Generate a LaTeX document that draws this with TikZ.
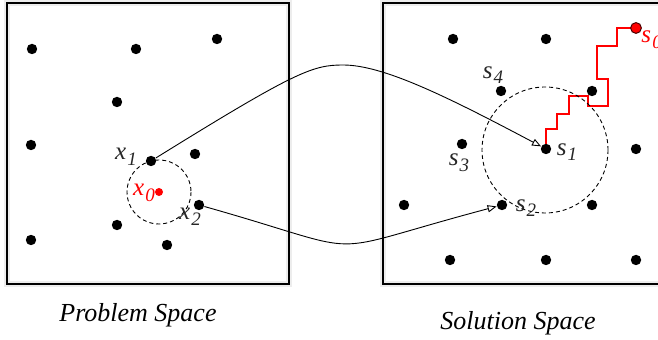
\documentclass[tikz,border=0pt]{standalone}
\usepackage{fontspec}
\setmainfont{Liberation Serif}
\usetikzlibrary{arrows.meta,backgrounds}
\newcommand{\lbl}[2]{\textit{#1}\kern0.6pt\raisebox{-0.5ex}{\fontsize{9.5}{10}\selectfont\textit{#2}}}

\begin{document}
\begin{tikzpicture}[
    x=0.5pt, y=-0.5pt,
    font=\fontsize{12.5}{14}\selectfont,
    sample/.style={circle, fill=black, inner sep=0pt, minimum size=5.2pt},
    start/.style={circle, fill=red, inner sep=0pt, minimum size=4pt},
    goal/.style={circle, fill=red, draw=black!70!red, line width=0.5pt, inner sep=0pt, minimum size=5.4pt},
    tag/.style={text=black!85, inner sep=0pt},
    spacebox/.style={draw=black, line width=0.6pt},
    glow/.style={draw=black!7, line width=3pt},
    ball/.style={dash pattern=on 2pt off 1.5pt, line width=0.45pt},
    arrow/.style={-{Triangle[open, length=4.5pt, width=3.6pt]}, line width=0.45pt},
    walk/.style={red, line width=1.2pt}
  ]
    \useasboundingbox (0,0) rectangle (658,340);

    % the two spaces
    \draw[glow] (7,3) rectangle (289,284);
    \draw[spacebox] (7,3) rectangle (289,284);
    \draw[glow] (383,3) rectangle (664,284);
    \draw[spacebox] (383,3) rectangle (664,284);

    % problem space
    \foreach \px/\py [count=\i] in {32/49, 136/49, 217/39, 117/102, 31/145, 195/154, 117/225, 31/240, 167/245}
      \node[sample] (p\i) at (\px,\py) {};
    \node[sample] (x1) at (151,161) {};
    \node[sample] (x2) at (199,205) {};
    \node[start] (x0) at (159,192) {};
    \draw[ball] (x0) circle[radius=32];

    \node[tag] (x1lbl) at (126,157) {\lbl{x}{1}};
    \node[tag, text=red] (x0lbl) at (144,193) {\lbl{x}{0}};
    \node[tag] (x2lbl) at (190,217) {\lbl{x}{2}};

    % solution space
    \foreach \px/\py [count=\i] in {453/39, 546/39, 592/91, 636/149, 404/205, 592/205, 450/260, 546/260, 636/260}
      \node[sample] (q\i) at (\px,\py) {};
    \node[sample] (s1) at (546,149) {};
    \node[sample] (s2) at (502,205) {};
    \node[sample] (s3) at (462,144) {};
    \node[sample] (s4) at (501,91) {};
    \node[goal] (s0) at (636,28) {};
    \draw[ball] (545,150) circle[radius=63];

    \node[tag] (s1lbl) at (567,152) {\lbl{s}{1}};
    \node[tag] (s2lbl) at (526,208) {\lbl{s}{2}};
    \node[tag] (s3lbl) at (459,163) {\lbl{s}{3}};
    \node[tag] (s4lbl) at (493,75) {\lbl{s}{4}};
    \node[tag, text=red, anchor=west] (s0lbl) at (641,40) {\lbl{s}{0}};

    % search path
    \begin{scope}[on background layer]
      \draw[walk] (s1.center) -- ++(0,-20) -- ++(11,0) -- ++(0,-15) -- ++(12,0) -- ++(0,-18)
        -- ++(19,0) -- ++(0,10) -- ++(20,0) -- ++(0,-27) -- ++(-11,0) -- ++(0,-33)
        -- ++(20,0) |- (s0.center);
    \end{scope}

    % mapping
    \coordinate (apex) at (343,65);
    \draw[arrow] (x1) .. controls (296,71) and (313,65) .. (apex)
      .. controls (383,65) and (446,96) .. (s1);
    \draw[arrow] (x2) .. controls (380,256) and (310,256) .. (s2);

    % captions
    \node[font=\fontsize{13}{15}\selectfont\itshape] (probcap) at (138,315) {Problem Space};
    \node[font=\fontsize{13}{15}\selectfont\itshape] (solcap) at (518,323) {Solution Space};
  \end{tikzpicture}
\end{document}
